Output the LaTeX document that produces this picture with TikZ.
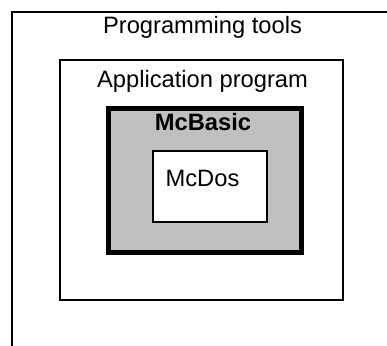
\documentclass[tikz,border=0pt]{standalone}
\usepackage{fontspec}
\setmainfont{Liberation Sans}
\usepackage{tikz}

\definecolor{basicgray}{RGB}{192,192,192}
\tikzset{
    layer/.style={draw=black,line width=2pt},
    layertext/.style={anchor=base,inner sep=0pt,font=\fontsize{23.7}{28}\selectfont},
}

\begin{document}
\begin{tikzpicture}[x=1pt,y=-1pt]
            \useasboundingbox (0,0) rectangle (387,345);

            \begin{scope}
                \clip (0,0) rectangle (387,345);
                \draw[layer] (12,12) rectangle (420,380);
            \end{scope}

            \draw[layer,fill=white] (60,60) rectangle (343,299.5);
            \draw[layer,fill=basicgray,line width=5pt] (108.5,108.5) rectangle (301,252);
            \draw[layer,fill=white] (153.3,151) rectangle (267.3,222);

            \node[layertext] (tools) at (202.5,34) {Programming tools};
            \node[layertext] (app) at (202.5,87) {Application program};
            \node[layertext,font=\fontsize{23.7}{28}\selectfont\bfseries] (basic) at (203,130.7) {McBasic};
            \node[layertext] (dos) at (202.5,186.7) {McDos};
        \end{tikzpicture}
\end{document}
